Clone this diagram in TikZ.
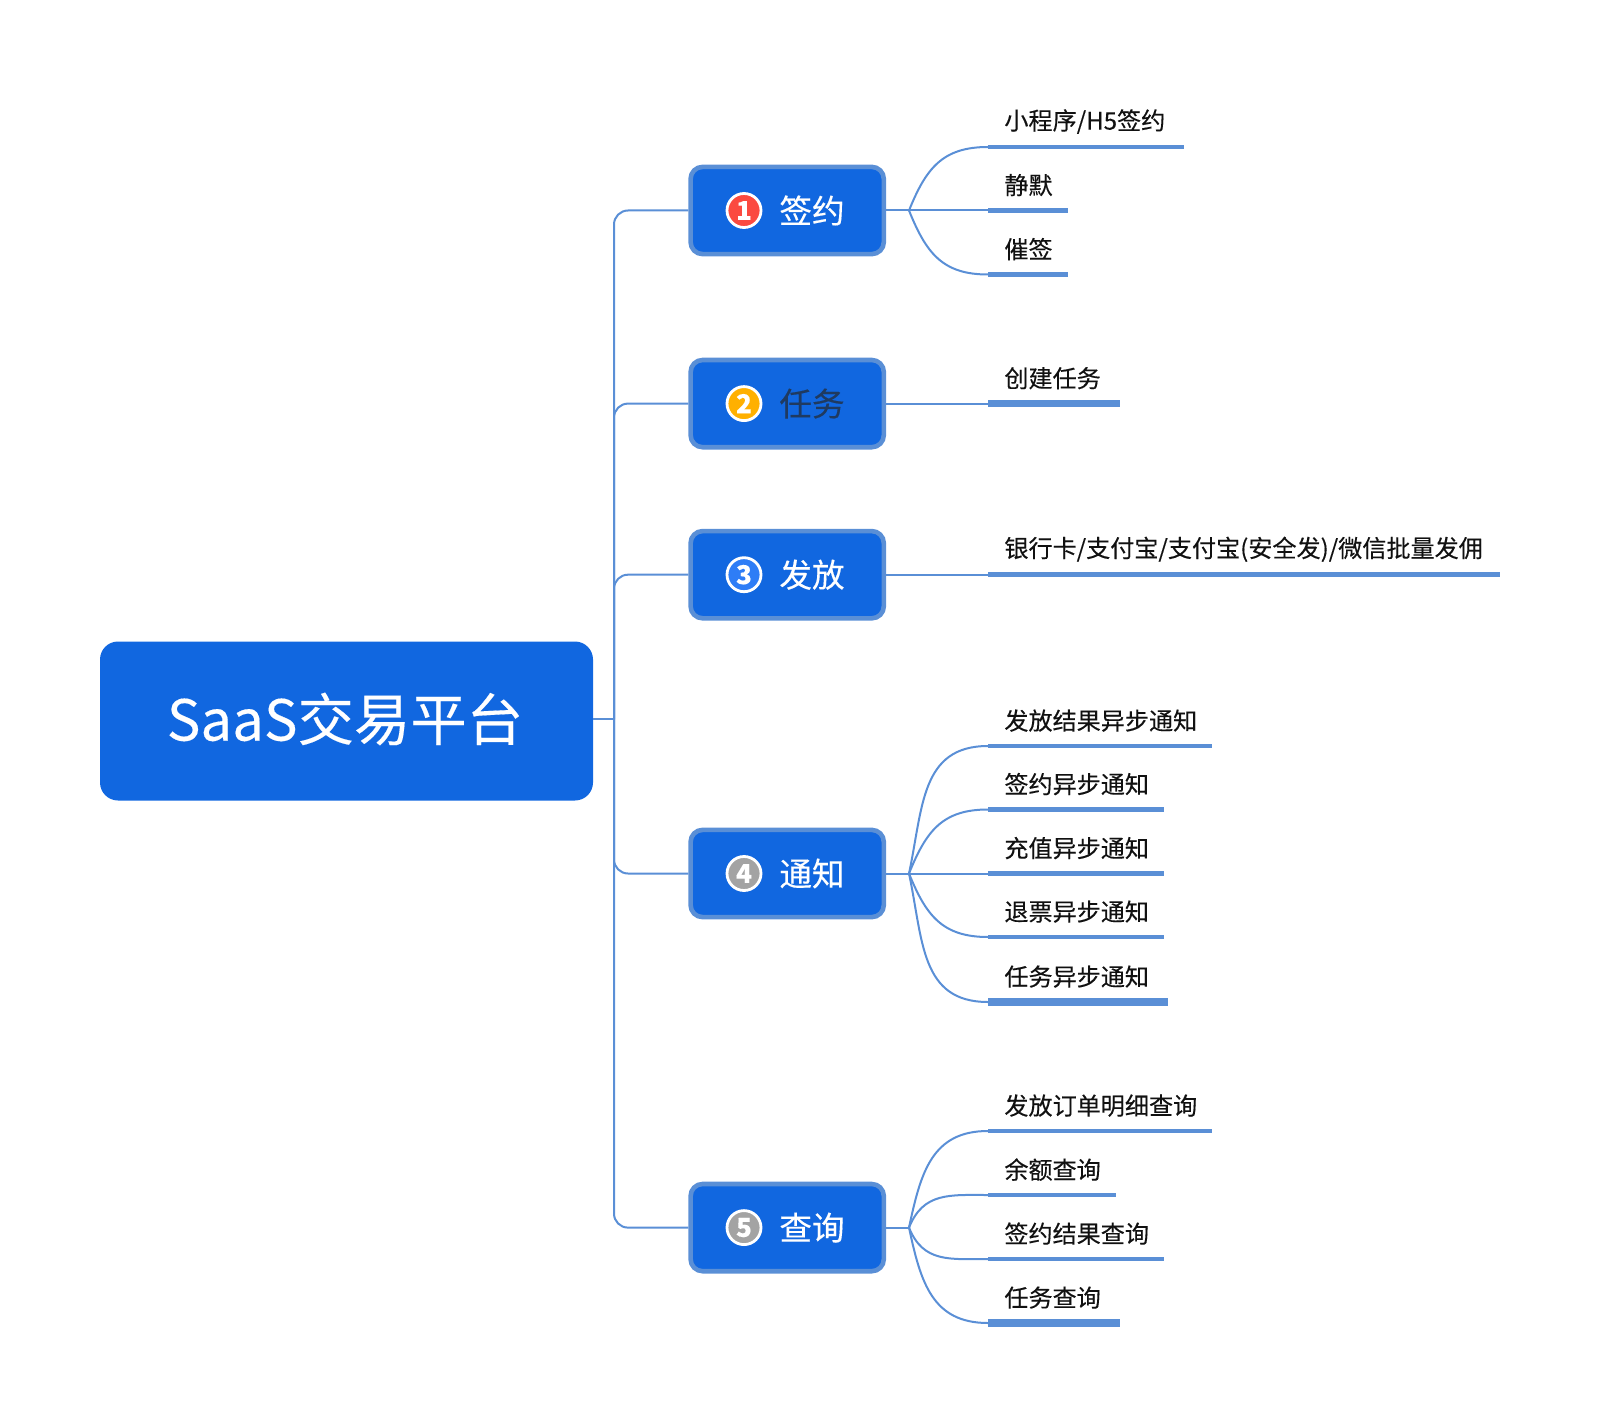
\documentclass[tikz,border=0pt]{standalone}
\usepackage{fontspec}
\setmainfont{Noto Sans CJK SC}[FakeBold=0.25]
\definecolor{boxblue}{HTML}{1167E0}
\definecolor{linkblue}{HTML}{5A8FD6}
\definecolor{inkdark}{HTML}{1F3A60}
\definecolor{inkleaf}{HTML}{111111}
\definecolor{numred}{HTML}{FB4A40}
\definecolor{numorange}{HTML}{FFB000}
\definecolor{numblue}{HTML}{2E7DF6}
\definecolor{numgray}{HTML}{A3A3A3}
\begin{document}
\begin{tikzpicture}[
        x=0.5pt, y=-0.5pt,
        link/.style={draw=linkblue, line width=1pt},
        rootbox/.style={fill=boxblue, rounded corners=9pt, minimum width=246.5pt, minimum height=79.5pt, inner sep=0pt},
        roottext/.style={inner sep=0pt, text=white, font=\fontsize{28.2}{28.2}\selectfont},
        topic/.style={draw=linkblue, line width=2.3pt, fill=boxblue, rounded corners=6pt, minimum width=96.6pt, minimum height=43.6pt, inner sep=0pt},
        topictext/.style={inner sep=0pt, text=white, font=\fontsize{16.3}{16.3}\selectfont},
        marker/.style={circle, draw=white, line width=1.4pt, minimum size=17pt, inner sep=0pt, text=white, font=\fontsize{13}{13}\selectfont\bfseries},
        leaf/.style={anchor=south west, inner sep=0pt, minimum height=20pt, text=inkleaf, font=\fontsize{12.05}{12.05}\selectfont},
    ]
    \useasboundingbox (0,0) rectangle (1600,1428);

    \node[rootbox] (root) at (346.5,721) {};
    \node[roottext] (rootlabel) at (345,719) {SaaS交易平台};
    \coordinate (trunk) at (614,719);
    \draw[link] (trunk -| root.east) -- (trunk);

    % main topics
    \foreach \name/\ypos/\numcolor/\num/\txtcolor/\txt in {
            n1/210.5/numred/1/white/签约,
            n2/403.6/numorange/2/inkdark/任务,
            n3/574.7/numblue/3/white/发放,
            n4/873.5/numgray/4/white/通知,
            n5/1227.6/numgray/5/white/查询} {
        \node[topic] (\name) at (787.2,\ypos) {};
        \node[marker, fill=\numcolor] (\name m) at (744,\ypos) {\num};
        \node[topictext, text=\txtcolor] (\name t) at (812,\ypos) {\txt};
        \draw[link, rounded corners=7pt] (trunk) |- (\name.west);
        \coordinate (\name f) at (909,\ypos);
        \draw[link] (\name.east) -- (\name f);
    }

    % leaves of each topic, \bend is the angle leaving the fork
    \foreach \parent/\name/\ypos/\xend/\thick/\bend/\txt in {
            n1/a1/147/1184/2.4/68/{小程序/H5签约},
            n1/a2/210.5/1068/2.4/0/静默,
            n1/a3/274.5/1068/2.4/-68/催签,
            n2/b1/403.6/1120/3.6/0/创建任务,
            n3/c1/574.7/1500/2.4/0/{银行卡/支付宝/支付宝(安全发)/微信批量发佣},
            n4/d1/746/1212/2.4/78/发放结果异步通知,
            n4/d2/809.5/1164/2.4/68/签约异步通知,
            n4/d3/873.5/1164/2.4/0/充值异步通知,
            n4/d4/937/1164/2.4/-68/退票异步通知,
            n4/d5/1002/1168/3.6/-78/任务异步通知,
            n5/e1/1131/1212/2.4/78/发放订单明细查询,
            n5/e2/1195/1116/2.4/68/余额查询,
            n5/e3/1259/1164/2.4/-68/签约结果查询,
            n5/e4/1323/1120/3.6/-78/任务查询} {
        \node[leaf] (\name) at (1004,\ypos-5) {\txt};
        \coordinate (\name s) at (988,\ypos);
        \coordinate (\name e) at (\xend,\ypos);
        \draw[draw=linkblue, line width=\thick pt] (\name s) -- (\name e);
        \draw[link] (\parent f) to[out=\bend, in=180, looseness=1.15] (\name s);
    }
\end{tikzpicture}
\end{document}
